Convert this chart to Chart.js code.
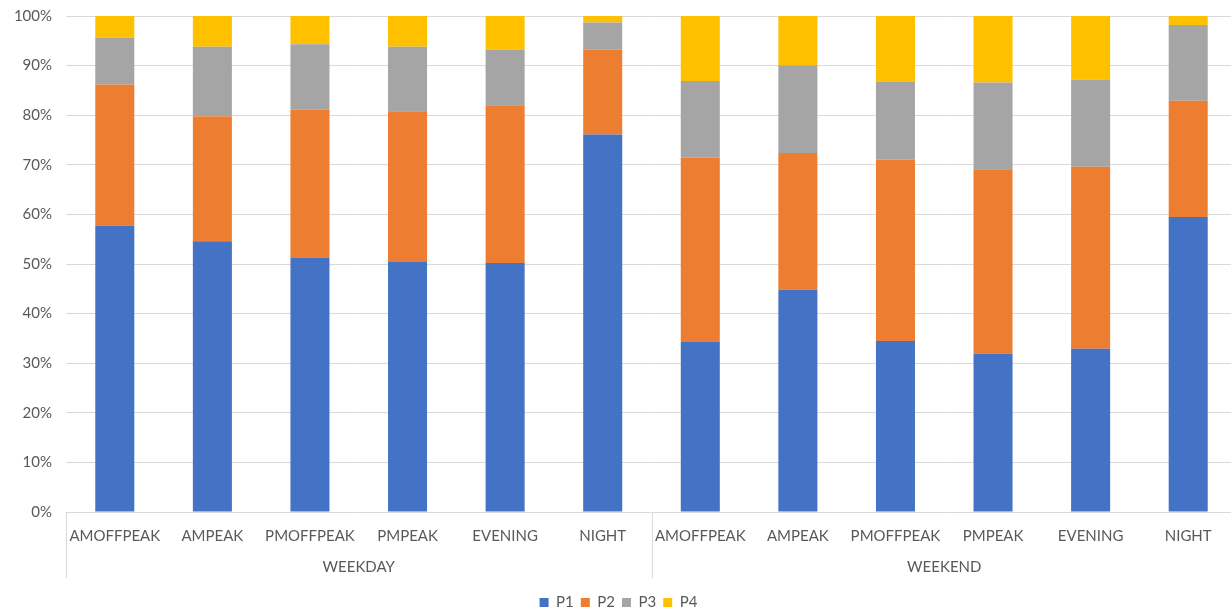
<!DOCTYPE html>
<html>
<head>
<meta charset="utf-8">
<script src="https://cdn.jsdelivr.net/npm/chart.js@4"></script>
<style>
  html, body { margin: 0; padding: 0; background: #fff; overflow: hidden; }
  /* the plot runs a few pixels past the right edge of the picture, as in the original */
  #wrap { width: 1237px; height: 620px; }
</style>
</head>
<body>
<div id="wrap"><canvas id="chart"></canvas></div>
<script>
// categories along the x axis, repeated for each group
const categories = ['AMOFFPEAK', 'AMPEAK', 'PMOFFPEAK', 'PMPEAK', 'EVENING', 'NIGHT',
                    'AMOFFPEAK', 'AMPEAK', 'PMOFFPEAK', 'PMPEAK', 'EVENING', 'NIGHT'];
const groups = ['WEEKDAY', 'WEEKEND'];

// shares in percent
const p1 = [57.7, 54.6, 51.3, 50.4, 50.2, 76.1, 34.3, 44.8, 34.5, 31.9, 32.9, 59.5];
const p2 = [28.5, 25.2, 29.8, 30.4, 31.8, 17.1, 37.2, 27.6, 36.5, 37.2, 36.7, 23.4];
const p3 = [9.4, 14.0, 13.2, 13.0, 11.2, 5.5, 15.4, 17.7, 15.8, 17.5, 17.6, 15.3];
const p4 = [4.4, 6.2, 5.7, 6.2, 6.8, 1.3, 13.1, 9.9, 13.2, 13.4, 12.8, 1.8];

const yTicks = [0, 10, 20, 30, 40, 50, 60, 70, 80, 90, 100];

const FONT = 'Lato, "Open Sans", sans-serif';
const TEXT = '#595959';
const LINE = '#d9d9d9';

// draws the group separators and WEEKDAY / WEEKEND labels under the category labels
const groupAxis = {
    id: 'groupAxis',
    afterDraw(chart) {
        const { ctx, chartArea, scales } = chart;
        const x = scales.x;
        const per = categories.length / groups.length;
        const top = chartArea.bottom;
        const bottom = chartArea.bottom + 66;
        ctx.save();
        ctx.strokeStyle = LINE;
        ctx.lineWidth = 1;
        ctx.fillStyle = TEXT;
        ctx.font = '15px ' + FONT;
        ctx.textAlign = 'center';
        ctx.textBaseline = 'middle';
        groups.forEach((g, i) => {
            const first = i * per;
            const last = first + per - 1;
            const left = first === 0 ? x.left : (x.getPixelForTick(first - 1) + x.getPixelForTick(first)) / 2;
            const right = last + 1 < categories.length
                ? (x.getPixelForTick(last) + x.getPixelForTick(last + 1)) / 2
                : x.right;
            const lx = Math.round(left) + 0.5;
            ctx.beginPath();
            ctx.moveTo(lx, top);
            ctx.lineTo(lx, bottom);
            ctx.stroke();
            ctx.fillText(g, (left + right) / 2, chartArea.bottom + 55);
        });
        ctx.restore();
    }
};

const ctx = document.getElementById('chart');
new Chart(ctx, {
    type: 'bar',
    data: {
        labels: categories,
        datasets: [
            { label: 'P1', data: p1, backgroundColor: '#4472C4' },
            { label: 'P2', data: p2, backgroundColor: '#ED7D31' },
            { label: 'P3', data: p3, backgroundColor: '#A5A5A5' },
            { label: 'P4', data: p4, backgroundColor: '#FFC000' },
        ]
    },
    options: {
        responsive: true,
        maintainAspectRatio: false,
        animation: false,
        categoryPercentage: 0.8,
        barPercentage: 0.5,
        layout: { padding: 0 },
        plugins: {
            legend: {
                position: 'bottom',
                labels: {
                    boxWidth: 9, boxHeight: 9, padding: 7,
                    color: TEXT, font: { family: FONT, size: 15 }
                }
            },
            tooltip: { enabled: false }
        },
        scales: {
            x: {
                stacked: true,
                grid: { display: false, drawTicks: false },
                border: { display: false },
                ticks: {
                    color: TEXT, font: { family: FONT, size: 15 },
                    padding: 15, maxRotation: 0, autoSkip: false
                },
                afterFit: s => { s.height = 76; }
            },
            y: {
                stacked: true,
                min: 0,
                max: 100,
                afterBuildTicks: s => { s.ticks = yTicks.map(v => ({ value: v })); },
                grid: { color: LINE, drawTicks: false },
                border: { display: false },
                ticks: {
                    color: TEXT,
                    // small lineHeight keeps the top label from pushing the plot down
                    font: { family: FONT, size: 15, lineHeight: 0.27 },
                    padding: 14,
                    callback: v => v + '%'
                },
                afterFit: s => { s.width = 66; }
            }
        }
    },
    plugins: [groupAxis]
});
</script>
</body>
</html>
